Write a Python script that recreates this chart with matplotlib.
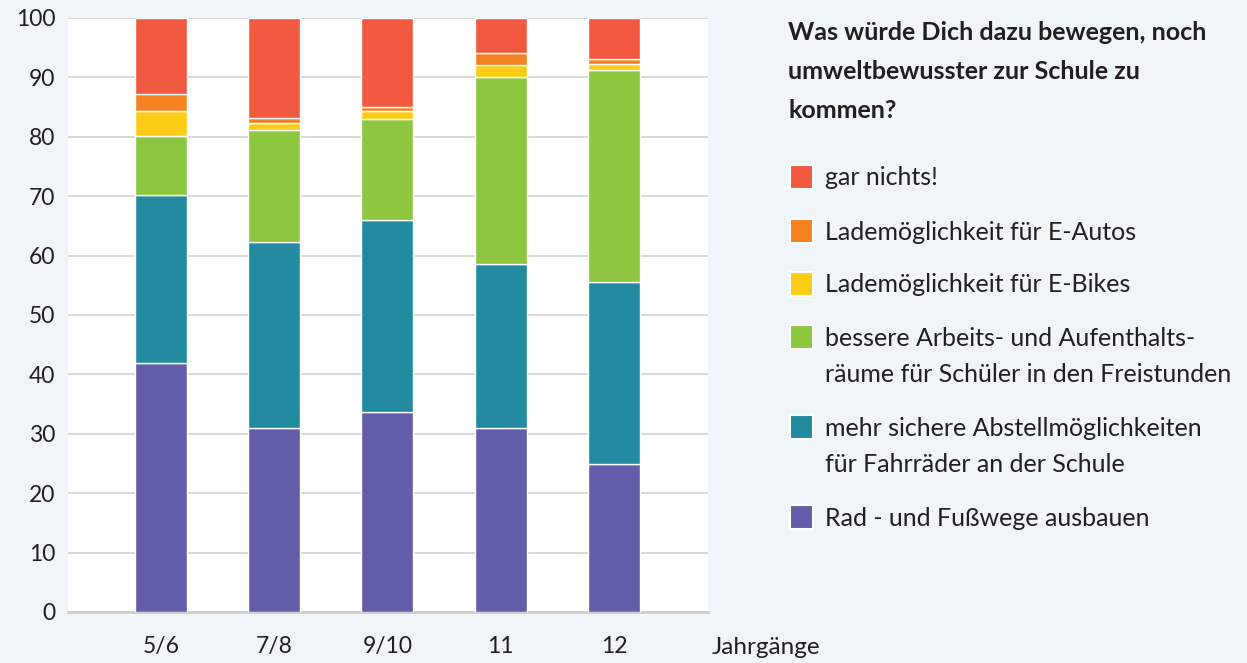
import numpy as np
import matplotlib.pyplot as plt
from matplotlib.patches import Rectangle

plt.rcParams['font.family'] = ['Lato', 'DejaVu Sans']

jahrgaenge = ['5/6', '7/8', '9/10', '11', '12']

# stacked from bottom to top
rad_fuss = [42.0, 31.0, 33.7, 31.0, 25.0]
abstell = [28.2, 31.3, 32.3, 27.6, 30.6]
raeume = [9.9, 18.8, 17.0, 31.5, 35.7]
e_bikes = [4.2, 1.3, 1.4, 2.0, 0.9]
e_autos = [2.9, 0.7, 0.7, 2.0, 0.9]
gar_nichts = [12.8, 16.9, 14.9, 5.9, 6.9]

series = [rad_fuss, abstell, raeume, e_bikes, e_autos, gar_nichts]
labels = ['Rad - und Fußwege ausbauen',
          'mehr sichere Abstellmöglichkeiten\nfür Fahrräder an der Schule',
          'bessere Arbeits- und Aufenthalts-\nräume für Schüler in den Freistunden',
          'Lademöglichkeit für E-Bikes',
          'Lademöglichkeit für E-Autos',
          'gar nichts!']
colors = ['#635ea9', '#238ba0', '#8dc63f', '#fecc16', '#f58220', '#f15a40']
title = 'Was würde Dich dazu bewegen, noch\numweltbewusster zur Schule zu\nkommen?'

bg = '#eff5f8'
txt = '#231f20'
W, H = 1247, 663

fig = plt.figure(figsize=(W / 100, H / 100), dpi=100, facecolor=bg)
ax = fig.add_axes([68 / W, 51 / H, 640 / W, 594 / H])
ax.set_facecolor('white')

x = np.arange(len(jahrgaenge))
bottom = np.zeros(len(jahrgaenge))
for vals, col in zip(series, colors):
    ax.bar(x, vals, bottom=bottom, width=0.46, color=col,
           edgecolor='white', linewidth=1.0, zorder=3)
    bottom += np.array(vals)

ax.set_ylim(0, 100)
ax.set_xlim(-0.82, 4.83)
ax.set_yticks(range(0, 101, 10))
ax.grid(axis='y', color='#d6d6d6', linewidth=1.3, zorder=0)
ax.set_xticks(x)
ax.set_xticklabels(jahrgaenge)
ax.tick_params(length=0, labelsize=16.5, labelcolor=txt)
ax.tick_params(axis='x', pad=17.5)
ax.tick_params(axis='y', pad=9)
for s in ['top', 'right', 'left']:
    ax.spines[s].set_visible(False)
ax.spines['bottom'].set_color('#cfcfcf')
ax.spines['bottom'].set_linewidth(2)


def ftext(px, py, s, **kw):
    fig.text(px / W, 1 - py / H, s, color=txt, ha='left', va='center', **kw)


ftext(712, 648, 'Jahrgänge', fontsize=17.5)

# legend title
for j, line in enumerate(title.split('\n')):
    ftext(788, 33 + 38.5 * j, line, fontsize=18, fontweight='bold')

# legend entries, top to bottom
leg_y = [177, 231, 284, 337, 427, 517]
for i, yy in enumerate(leg_y):
    k = len(series) - 1 - i
    fig.patches.append(Rectangle((790 / W, 1 - (yy + 12) / H), 23 / W, 24 / H,
                                 transform=fig.transFigure, facecolor=colors[k],
                                 edgecolor='white', linewidth=1.5))
    for j, line in enumerate(labels[k].split('\n')):
        ftext(825, yy + 1 + 37 * j, line, fontsize=18)

fig.savefig('out.png', dpi=100, facecolor=bg)
